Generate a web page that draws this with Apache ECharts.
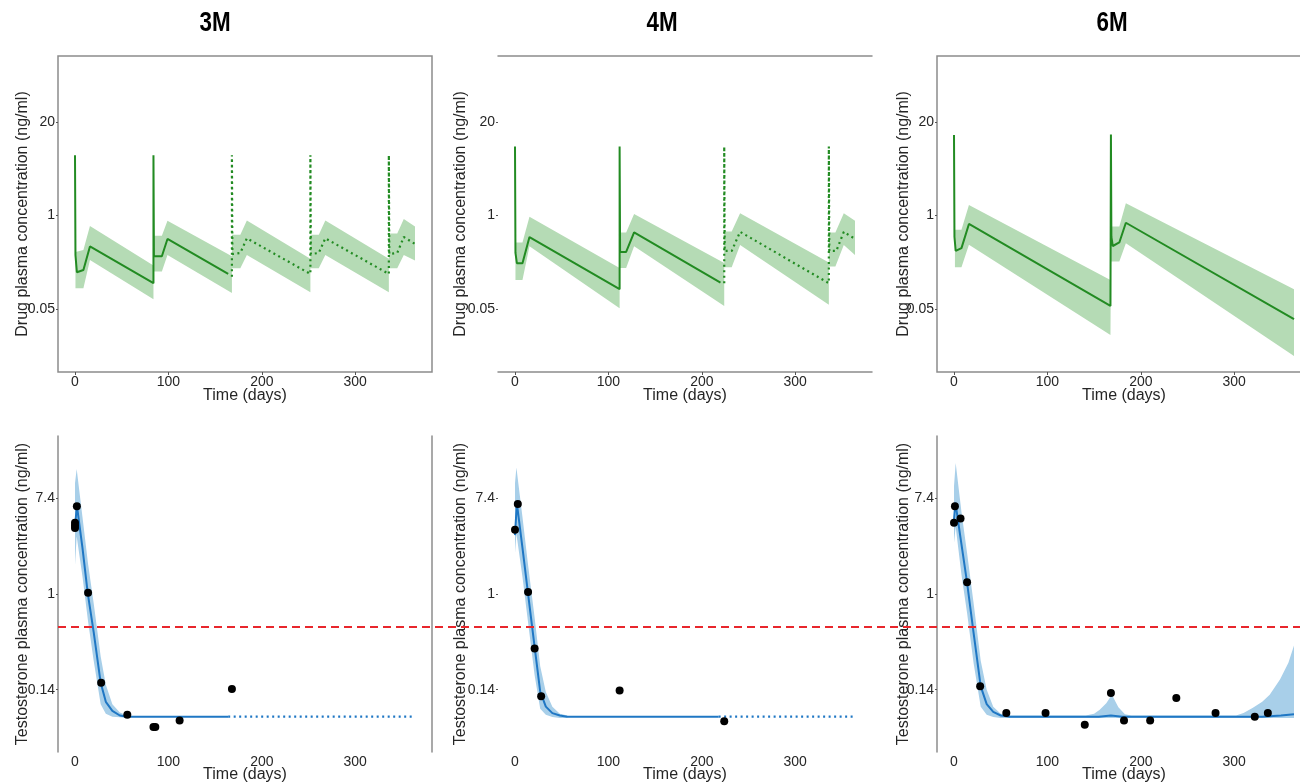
<!DOCTYPE html>
<html><head><meta charset="utf-8">
<script src="https://cdn.jsdelivr.net/npm/echarts@6/dist/echarts.min.js"></script>
<style>html,body{margin:0;padding:0;background:#fff}#c{width:1300px;height:783px}</style>
</head><body><div id="c"></div>
<script>
// ---------- tick labels ----------
const xTicks = [0, 100, 200, 300];
const topTickVals = [0.0498, 1, 20.09];
const topTickLabels = ['0.05', '1', '20'];
const botTickVals = [0.1353, 1, 7.389];
const botTickLabels = ['0.14', '1', '7.4'];
const panelTitles = ['3M', '4M', '6M'];
const threshold = [0.5, 0.5];

// ---------- Drug plasma concentration (ng/ml) ----------
// 3M
const d3Time  = [0, 0.5, 2, 9, 16, 84, 84, 84.5, 86, 93, 99, 164];
const d3Conc  = [6.9, 0.28, 0.162, 0.174, 0.37, 0.114, 6.9, 0.27, 0.27, 0.27, 0.47, 0.153];
const d3PTime = [168, 168, 168.5, 170, 177, 184, 252, 252, 252.5, 254, 261, 268, 336, 336, 336.5, 338, 345, 352, 364];
const d3PConc = [0.14, 6.9, 0.29, 0.30, 0.30, 0.48, 0.153, 6.9, 0.29, 0.30, 0.30, 0.48, 0.153, 6.9, 0.29, 0.30, 0.30, 0.50, 0.40];
const d3BTime = [0.5, 9, 16, 84, 84, 93, 99, 168, 168, 177, 184, 252, 252, 261, 268, 336, 336, 345, 352, 364];
const d3Lo    = [0.097, 0.097, 0.24, 0.068, 0.165, 0.165, 0.28, 0.083, 0.184, 0.184, 0.28, 0.085, 0.184, 0.184, 0.28, 0.085, 0.184, 0.184, 0.28, 0.235];
const d3Hi    = [0.31, 0.33, 0.71, 0.20, 0.52, 0.52, 0.84, 0.27, 0.54, 0.54, 0.85, 0.25, 0.54, 0.54, 0.85, 0.25, 0.56, 0.56, 0.89, 0.70];
// 4M
const d4Time  = [0, 0.5, 2, 8, 9, 15.5, 112, 112, 112.5, 113, 119, 127.5, 220];
const d4Conc  = [9.1, 0.3, 0.216, 0.216, 0.23, 0.50, 0.094, 9.1, 0.31, 0.31, 0.31, 0.58, 0.116];
const d4PTime = [224, 224, 224.5, 226, 232, 241, 336, 336, 336.5, 338, 344, 352, 364];
const d4PConc = [0.114, 9.1, 0.32, 0.32, 0.32, 0.59, 0.114, 9.1, 0.32, 0.32, 0.32, 0.59, 0.47];
const d4BTime = [0.5, 8, 15.5, 112, 112, 119, 127.5, 224, 224, 232, 241, 336, 336, 343, 352, 364];
const d4Lo    = [0.126, 0.126, 0.372, 0.051, 0.185, 0.185, 0.372, 0.055, 0.19, 0.19, 0.387, 0.057, 0.194, 0.194, 0.387, 0.281];
const d4Hi    = [0.42, 0.42, 0.96, 0.185, 0.577, 0.577, 1.05, 0.217, 0.595, 0.595, 1.07, 0.221, 0.577, 0.577, 1.07, 0.844];
// 6M
const d6Time  = [0, 0.5, 1.8, 8, 16, 167.5, 168, 168.5, 170, 177, 184, 364];
const d6Conc  = [13.2, 0.5, 0.32, 0.35, 0.76, 0.055, 13.4, 0.5, 0.375, 0.42, 0.79, 0.036];
const d6BTime = [1, 8, 16, 167.5, 168, 177, 184, 364];
const d6Lo    = [0.19, 0.19, 0.39, 0.0217, 0.228, 0.228, 0.41, 0.011];
const d6Hi    = [0.63, 0.63, 1.40, 0.126, 0.70, 0.70, 1.48, 0.094];

// ---------- Testosterone plasma concentration (ng/ml) ----------
// 3M
const t3Time  = [0, 2, 8, 13.6, 20, 27.5, 33, 40, 48, 56, 164];
const t3Conc  = [4.0, 6.3, 2.6, 1.02, 0.45, 0.156, 0.105, 0.087, 0.079, 0.077, 0.077];
const t3PTime = [164, 364];
const t3PConc = [0.077, 0.077];
const t3BTime = [0, 1.8, 8, 14, 20, 27.5, 33, 40, 48, 56];
const t3Hi    = [10, 13.5, 4.95, 1.86, 0.82, 0.27, 0.15, 0.10, 0.084, 0.079];
const t3Lo    = [1.82, 3.3, 1.43, 0.56, 0.247, 0.10, 0.082, 0.077, 0.076, 0.075];
const t3ObsTime = [0, 0, 0, 2, 14, 28, 56, 84, 86, 112, 168];
const t3ObsConc = [4.4, 4.15, 3.95, 6.2, 1.02, 0.156, 0.080, 0.062, 0.062, 0.071, 0.137];
// 4M
const t4Time  = [0, 2, 8, 14, 21, 27, 33, 40, 48, 56, 218];
const t4Conc  = [3.4, 6.6, 2.6, 1.0, 0.33, 0.13, 0.095, 0.083, 0.079, 0.077, 0.077];
const t4PTime = [218, 364];
const t4PConc = [0.077, 0.077];
const t4BTime = [0, 1.5, 8, 14, 21, 27, 33, 40, 48, 56];
const t4Hi    = [10, 13.9, 4.95, 1.82, 0.61, 0.22, 0.129, 0.095, 0.082, 0.079];
const t4Lo    = [2.34, 3.5, 1.42, 0.55, 0.183, 0.091, 0.080, 0.0765, 0.075, 0.075];
const t4ObsTime = [0, 3, 14, 21, 28, 112, 224];
const t4ObsConc = [3.8, 6.5, 1.04, 0.32, 0.118, 0.133, 0.070];
// 6M
const t6Time  = [0, 1.5, 8, 14, 21, 28.6, 35, 42, 50, 60, 140, 155, 168, 180, 195, 300, 330, 350, 364];
const t6Conc  = [4.7, 6.7, 2.8, 1.26, 0.44, 0.145, 0.10, 0.085, 0.079, 0.077, 0.077, 0.077, 0.079, 0.077, 0.077, 0.077, 0.077, 0.079, 0.081];
const t6BTime = [0, 1.8, 8, 14, 21, 28.6, 35, 42, 50, 60, 141, 150, 156, 163, 169, 176, 183, 190, 302, 310, 320, 330, 338, 349, 358, 364];
const t6Hi    = [9.4, 15.3, 5.5, 2.34, 0.82, 0.247, 0.135, 0.095, 0.082, 0.079, 0.079, 0.082, 0.089, 0.102, 0.122, 0.094, 0.081, 0.079, 0.079, 0.083, 0.093, 0.105, 0.122, 0.167, 0.237, 0.34];
const t6Lo    = [2.9, 4.05, 1.49, 0.67, 0.235, 0.095, 0.080, 0.0765, 0.075, 0.075, 0.075, 0.075, 0.075, 0.075, 0.075, 0.075, 0.075, 0.075, 0.075, 0.075, 0.075, 0.075, 0.075, 0.075, 0.075, 0.075];
const t6ObsTime = [0, 1, 7, 14, 28, 56, 98, 140, 168, 182, 210, 238, 280, 322, 336];
const t6ObsConc = [4.4, 6.2, 4.8, 1.27, 0.145, 0.083, 0.083, 0.065, 0.126, 0.071, 0.071, 0.114, 0.083, 0.077, 0.083];

// ---------- styling ----------
const FONT = '"Liberation Sans", Arial, sans-serif';
const TXT = '#262626';
const AX = '#8c8c8c';
const GREEN = '#228b22', GREEN_BAND = '#b5dbb5';
const BLUE = '#1f77c4', BLUE_BAND = '#a8cfe9';
const X_RANGE = [-18.2, 382.2];
const TOP_RANGE = [-5.02, 5.11];
const BOT_RANGE = [-3.30, 3.29];

const ln = v => Math.log(v);
const pts = (t, v) => t.map((x, i) => [x, ln(v[i])]);

const gridPos = [
  {left: 58, top: 56}, {left: 498, top: 56}, {left: 937, top: 56},
  {left: 58, top: 436}, {left: 498, top: 436}, {left: 937, top: 436}
];
const grid = gridPos.map((g, i) => ({
  left: g.left, top: g.top, width: 374, height: 316,
  show: (i === 0 || i === 2), borderColor: AX, borderWidth: 1.5, backgroundColor: 'transparent',
  containLabel: false, outerBoundsMode: 'none'
}));
grid.push({left: 58, top: 436, width: 1242, height: 316, show: false, containLabel: false, outerBoundsMode: 'none'});

function fmt(vals, labels) {
  return function (v) {
    for (let i = 0; i < vals.length; i++) if (Math.abs(ln(vals[i]) - v) < 1e-6) return labels[i];
    return '';
  };
}

const xAxis = [], yAxis = [];
for (let i = 0; i < 6; i++) {
  const top = i < 3;
  xAxis.push({
    type: 'value', gridIndex: i, min: X_RANGE[0], max: X_RANGE[1],
    axisLine: {show: i === 1, onZero: false, lineStyle: {color: AX, width: 1.5}},
    axisTick: {show: top, customValues: xTicks, length: 3, lineStyle: {color: '#555'}},
    axisLabel: {customValues: xTicks, margin: 3, fontSize: 14, color: TXT, fontFamily: FONT},
    splitLine: {show: false},
    name: 'Time (days)', nameLocation: 'middle', nameGap: top ? 16 : 15, nameMoveOverlap: false,
    nameTextStyle: {fontSize: 16, color: TXT, fontFamily: FONT}
  });
  const vals = top ? topTickVals : botTickVals;
  const labs = top ? topTickLabels : botTickLabels;
  const ticks = vals.map(ln);
  const r = top ? TOP_RANGE : BOT_RANGE;
  const nameGaps = [27, 29, 25];
  yAxis.push({
    type: 'value', gridIndex: i, min: r[0], max: r[1],
    axisLine: {show: (i === 3 || i === 5), onZero: false, lineStyle: {color: AX, width: 1.5}},
    axisTick: {show: true, customValues: ticks, length: 2, lineStyle: {color: '#555'}},
    axisLabel: {customValues: ticks, formatter: fmt(vals, labs), margin: 3, fontSize: 14, color: TXT, fontFamily: FONT},
    splitLine: {show: false},
    name: top ? 'Drug plasma concentration (ng/ml)' : 'Testosterone plasma concentration (ng/ml)',
    nameLocation: 'middle', nameGap: nameGaps[i % 3], nameRotate: 90, nameMoveOverlap: false,
    nameTextStyle: {fontSize: 16, color: TXT, fontFamily: FONT}
  });
}
// extra border lines
xAxis.push({type: 'value', gridIndex: 1, position: 'top', min: X_RANGE[0], max: X_RANGE[1],
  axisLine: {show: true, onZero: false, lineStyle: {color: AX, width: 1.5}}, axisTick: {show: false}, axisLabel: {show: false}, splitLine: {show: false}});
yAxis.push({type: 'value', gridIndex: 3, position: 'right', min: BOT_RANGE[0], max: BOT_RANGE[1],
  axisLine: {show: true, onZero: false, lineStyle: {color: AX, width: 1.5}}, axisTick: {show: false}, axisLabel: {show: false}, splitLine: {show: false}});
// helper axes for the castration threshold line spanning the bottom row
xAxis.push({type: 'value', gridIndex: 6, min: 0, max: 1, show: false});
yAxis.push({type: 'value', gridIndex: 6, min: BOT_RANGE[0], max: BOT_RANGE[1], show: false});
const HX = xAxis.length - 1, HY = yAxis.length - 1;

function band(i, t, lo, hi, color) {
  return {
    type: 'custom', xAxisIndex: i, yAxisIndex: i, silent: true, clip: true, z: 1,
    encode: {x: 0, y: 1}, data: [[t[0], ln(lo[0])]],
    renderItem: function (params, api) {
      const p = [];
      for (let k = 0; k < t.length; k++) p.push(api.coord([t[k], ln(hi[k])]));
      for (let k = t.length - 1; k >= 0; k--) p.push(api.coord([t[k], ln(lo[k])]));
      return {type: 'polygon', shape: {points: p}, style: {fill: color}};
    }
  };
}
function line(i, t, v, color, dotted) {
  return {
    type: 'line', xAxisIndex: i, yAxisIndex: i, data: pts(t, v), showSymbol: false, symbol: 'none',
    silent: true, z: 3, clip: true,
    lineStyle: {color: color, width: dotted ? 2.2 : 2, type: dotted ? [2, 3.5] : 'solid', cap: 'butt'}
  };
}
function obs(i, t, v) {
  return {type: 'scatter', xAxisIndex: i, yAxisIndex: i, data: pts(t, v), symbolSize: 8,
    itemStyle: {color: '#000', opacity: 1}, silent: true, z: 5};
}

const series = [
  band(0, d3BTime, d3Lo, d3Hi, GREEN_BAND), line(0, d3Time, d3Conc, GREEN, false), line(0, d3PTime, d3PConc, GREEN, true),
  band(1, d4BTime, d4Lo, d4Hi, GREEN_BAND), line(1, d4Time, d4Conc, GREEN, false), line(1, d4PTime, d4PConc, GREEN, true),
  band(2, d6BTime, d6Lo, d6Hi, GREEN_BAND), line(2, d6Time, d6Conc, GREEN, false),
  band(3, t3BTime, t3Lo, t3Hi, BLUE_BAND), line(3, t3Time, t3Conc, BLUE, false), line(3, t3PTime, t3PConc, BLUE, true), obs(3, t3ObsTime, t3ObsConc),
  band(4, t4BTime, t4Lo, t4Hi, BLUE_BAND), line(4, t4Time, t4Conc, BLUE, false), line(4, t4PTime, t4PConc, BLUE, true), obs(4, t4ObsTime, t4ObsConc),
  band(5, t6BTime, t6Lo, t6Hi, BLUE_BAND), line(5, t6Time, t6Conc, BLUE, false), obs(5, t6ObsTime, t6ObsConc),
  {type: 'line', xAxisIndex: HX, yAxisIndex: HY, data: [[0, ln(threshold[0])], [1, ln(threshold[1])]],
   showSymbol: false, symbol: 'none', silent: true, z: 4,
   lineStyle: {color: '#e8262c', width: 2, type: [8, 5]}}
];

const titleX = [215, 662, 1112];
const graphic = panelTitles.map((s, i) => ({
  type: 'text', x: titleX[i], y: 23, scaleX: 0.8, silent: true,
  style: {text: s, fontSize: 28, fontWeight: 'bold', fontFamily: '"Liberation Sans", Arial, sans-serif',
    fill: '#000', align: 'center', verticalAlign: 'middle'}
}));

const chart = echarts.init(document.getElementById('c'), null, {renderer: 'canvas'});
chart.setOption({animation: false, backgroundColor: '#fff', grid, xAxis, yAxis, series, graphic});
</script></body></html>
